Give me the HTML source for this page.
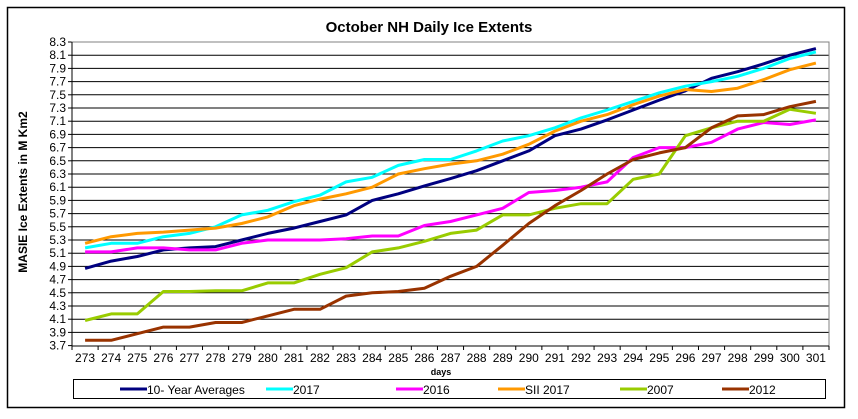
<!DOCTYPE html>
<html><head><meta charset="utf-8"><style>
html,body{margin:0;padding:0;background:#fff;width:858px;height:419px;overflow:hidden}
text{font-family:"Liberation Sans",Arial,sans-serif}
</style></head><body>
<svg id="s" width="858" height="419" xmlns="http://www.w3.org/2000/svg">
<rect x="7.5" y="7.5" width="837" height="400" fill="#fff" stroke="#000" stroke-width="1.5"/>
<text x="429" y="32" text-anchor="middle" font-size="15" font-weight="bold">October NH Daily  Ice Extents</text>
<text transform="translate(27,192) rotate(-90)" text-anchor="middle" font-size="12" font-weight="bold">MASIE Ice Extents in M Km2</text>
<text x="441" y="375" text-anchor="middle" font-size="9" font-weight="bold">days</text>
<g id="g"></g>
<rect x="73.5" y="379.5" width="752" height="19" fill="none" stroke="#000" stroke-width="1"/>
<g font-size="12">
<line x1="120" y1="389" x2="147" y2="389" stroke="#000080" stroke-width="3"/><text x="147" y="394">10- Year Averages</text>
<line x1="266" y1="389" x2="293" y2="389" stroke="#00ffff" stroke-width="3"/><text x="293" y="394">2017</text>
<line x1="396" y1="389" x2="423" y2="389" stroke="#ff00ff" stroke-width="3"/><text x="423" y="394">2016</text>
<line x1="498" y1="389" x2="525" y2="389" stroke="#ff9900" stroke-width="3"/><text x="525" y="394">SII 2017</text>
<line x1="620" y1="389" x2="647" y2="389" stroke="#99cc00" stroke-width="3"/><text x="647" y="394">2007</text>
<line x1="722" y1="389" x2="749" y2="389" stroke="#993300" stroke-width="3"/><text x="749" y="394">2012</text>
</g>
</svg>
<script>
var g=document.getElementById('g'),h='';
var L=72,R=829,T=42,B=346,n=29,cw=(R-L)/n;
function Y(v){return T+(8.3-v)/0.2*13.2;}
for(var k=0;k<=23;k++){var v=3.7+k*0.2,y=Y(v);
 if(k<23&&k>0)h+='<line x1="'+L+'" y1="'+y+'" x2="'+R+'" y2="'+y+'" stroke="#000" stroke-width="1"/>';
 h+='<line x1="'+(L-4)+'" y1="'+y+'" x2="'+L+'" y2="'+y+'" stroke="#000"/>';
 h+='<text x="'+(L-6)+'" y="'+(y+4)+'" text-anchor="end" font-size="12">'+v.toFixed(1)+'</text>';}
h+='<rect x="'+L+'" y="'+T+'" width="'+(R-L)+'" height="'+(B-T)+'" fill="none" stroke="#808080"/>';
h+='<line x1="'+L+'" y1="'+B+'" x2="'+R+'" y2="'+B+'" stroke="#000"/><line x1="'+L+'" y1="'+T+'" x2="'+L+'" y2="'+B+'" stroke="#000"/>';
for(var i=0;i<=n;i++){var x=L+i*cw;h+='<line x1="'+x+'" y1="'+B+'" x2="'+x+'" y2="'+(B+4)+'" stroke="#000"/>';
 if(i<n)h+='<text x="'+(x+cw/2)+'" y="'+(B+16)+'" text-anchor="middle" font-size="12">'+(273+i)+'</text>';}
var S=[
["#000080",[4.87,4.98,5.05,5.15,5.18,5.2,5.3,5.4,5.48,5.58,5.68,5.9,6.0,6.12,6.23,6.35,6.5,6.65,6.88,6.98,7.12,7.27,7.42,7.56,7.75,7.85,7.97,8.1,8.2]],
["#00ffff",[5.18,5.25,5.25,5.35,5.4,5.5,5.68,5.75,5.88,5.98,6.18,6.25,6.43,6.52,6.52,6.65,6.8,6.88,7.0,7.15,7.27,7.4,7.53,7.63,7.7,7.78,7.9,8.05,8.15]],
["#ff00ff",[5.12,5.12,5.18,5.18,5.15,5.15,5.25,5.3,5.3,5.3,5.32,5.36,5.36,5.52,5.58,5.68,5.78,6.02,6.05,6.1,6.18,6.55,6.7,6.7,6.78,6.98,7.08,7.05,7.12]],
["#ff9900",[5.25,5.35,5.4,5.42,5.45,5.48,5.55,5.65,5.82,5.92,6.0,6.1,6.3,6.38,6.45,6.5,6.6,6.75,6.95,7.1,7.2,7.35,7.48,7.58,7.55,7.6,7.73,7.88,7.98]],
["#99cc00",[4.08,4.18,4.18,4.52,4.52,4.53,4.53,4.65,4.65,4.78,4.88,5.12,5.18,5.28,5.4,5.45,5.68,5.68,5.78,5.85,5.85,6.22,6.3,6.88,7.0,7.1,7.1,7.28,7.22]],
["#993300",[3.78,3.78,3.88,3.98,3.98,4.05,4.05,4.15,4.25,4.25,4.45,4.5,4.52,4.57,4.75,4.9,5.22,5.55,5.82,6.05,6.3,6.52,6.62,6.7,7.0,7.18,7.2,7.32,7.4]]];
S.forEach(function(s){var p=s[1].map(function(v,i){return (L+cw*(i+0.5)).toFixed(1)+','+Y(v).toFixed(1)}).join(' ');
 h+='<polyline points="'+p+'" fill="none" stroke="'+s[0]+'" stroke-width="3" stroke-linejoin="round"/>';});
g.innerHTML=h;
</script>
</body></html>
